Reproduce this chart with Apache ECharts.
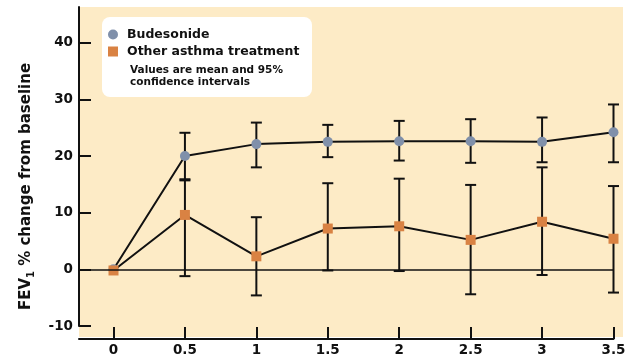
<!DOCTYPE html>
<html>
<head>
<meta charset="utf-8">
<script src="https://cdn.jsdelivr.net/npm/echarts@6/dist/echarts.min.js"></script>
<style>
  html, body { margin: 0; padding: 0; background: #ffffff; }
  #chart { width: 635px; height: 358px; }
</style>
</head>
<body>
<div id="chart"></div>
<script>
// Time points (x axis) and tick labels
const timePoints = [0, 0.5, 1, 1.5, 2, 2.5, 3, 3.5];
const xTicks = [0, 0.5, 1, 1.5, 2, 2.5, 3, 3.5];
const yTicks = [-10, 0, 10, 20, 30, 40];

// Budesonide: mean and 95% CI
const budesonideMean = [0, 20.0, 22.1, 22.5, 22.6, 22.6, 22.5, 24.2];
const budesonideLow  = [null, 15.7, 18.0, 19.8, 19.2, 18.8, 18.9, 18.9];
const budesonideHigh = [null, 24.1, 25.9, 25.5, 26.2, 26.5, 26.8, 29.1];

// Other asthma treatment: mean and 95% CI
const otherMean = [-0.2, 9.6, 2.3, 7.2, 7.6, 5.2, 8.4, 5.4];
const otherLow  = [null, -1.2, -4.6, -0.2, -0.3, -4.4, -1.0, -4.1];
const otherHigh = [null, 15.9, 9.2, 15.2, 16.0, 14.9, 18.0, 14.7];

const FONT = '"DejaVu Sans", sans-serif';
const BUD_COLOR = '#8090AA';
const OTH_COLOR = '#D98243';

function pairs(xs, ys) { return xs.map((x, i) => [x, ys[i]]); }
function bars(xs, lo, hi) {
  const out = [];
  xs.forEach((x, i) => { if (lo[i] != null) out.push([x, lo[i], hi[i]]); });
  return out;
}

// Vertical error bar with caps
function renderErrorBar(params, api) {
  const top = api.coord([api.value(0), api.value(2)]);
  const bot = api.coord([api.value(0), api.value(1)]);
  const cap = 5.5;
  const style = { stroke: '#111', lineWidth: 2 };
  return {
    type: 'group',
    children: [
      { type: 'line', shape: { x1: top[0], y1: top[1], x2: bot[0], y2: bot[1] }, style },
      { type: 'line', shape: { x1: top[0] - cap, y1: top[1], x2: top[0] + cap, y2: top[1] }, style },
      { type: 'line', shape: { x1: bot[0] - cap, y1: bot[1], x2: bot[0] + cap, y2: bot[1] }, style }
    ]
  };
}

const chart = echarts.init(document.getElementById('chart'));
chart.setOption({
  animation: false,
  textStyle: { fontFamily: FONT },
  grid: { left: 79, top: 7, right: 21.5, bottom: 32 },
  graphic: [
    { type: 'rect', z: -10, shape: { x: 79, y: 7, width: 544, height: 330 }, style: { fill: '#FDEBC6' }, silent: true },
    { type: 'rect', z: 3, shape: { x: 102, y: 17, width: 210, height: 80, r: 8 }, style: { fill: '#ffffff' }, silent: true },
    { type: 'text', z: 5, left: 130, top: 64, style: {
        text: 'Values are mean and 95%\nconfidence intervals',
        font: 'bold 10.5px ' + FONT, fill: '#111', lineHeight: 12.5 } }
  ],
  legend: {
    orient: 'vertical', left: 108, top: 27, padding: 0, z: 6,
    itemWidth: 10, itemHeight: 10, itemGap: 2,
    itemStyle: { borderWidth: 0 },
    textStyle: { fontFamily: FONT, fontWeight: 'bold', fontSize: 12.5, color: '#111', lineHeight: 15, padding: [0, 0, 0, 4] },
    data: [
      { name: 'Budesonide', icon: 'circle' },
      { name: 'Other asthma treatment', icon: 'rect' }
    ]
  },
  xAxis: {
    type: 'value', min: -0.2415, max: 3.5, offset: 13,
    splitLine: { show: false },
    axisLine: { onZero: false, lineStyle: { color: '#111', width: 2 } },
    axisTick: { inside: true, length: 12, lineStyle: { color: '#111', width: 2 }, customValues: xTicks },
    axisLabel: { customValues: xTicks, margin: 4, color: '#111', fontFamily: FONT, fontWeight: 'bold', fontSize: 13.5 }
  },
  yAxis: {
    type: 'value', min: -10, max: 46.3,
    name: '{a|FEV}{s|1}{a| % change from baseline}',
    nameLocation: 'middle', nameGap: 43, nameRotate: 90,
    nameTextStyle: {
      padding: [0, 40, 0, 0],
      rich: {
        a: { fontFamily: FONT, fontWeight: 'bold', fontSize: 15, color: '#111', lineHeight: 20 },
        s: { fontFamily: FONT, fontWeight: 'bold', fontSize: 10, color: '#111', lineHeight: 20, verticalAlign: 'bottom' }
      }
    },
    splitLine: { show: false },
    axisLine: { onZero: false, lineStyle: { color: '#111', width: 2 } },
    axisTick: { inside: true, length: 12, lineStyle: { color: '#111', width: 2 }, customValues: yTicks },
    axisLabel: { customValues: yTicks, margin: 6, color: '#111', fontFamily: FONT, fontWeight: 'bold', fontSize: 13.5 }
  },
  series: [
    {
      name: 'Budesonide CI', type: 'custom', z: 2, silent: true,
      renderItem: renderErrorBar, data: bars(timePoints, budesonideLow, budesonideHigh),
      encode: { x: 0, y: [1, 2] }
    },
    {
      name: 'Other CI', type: 'custom', z: 2, silent: true,
      renderItem: renderErrorBar, data: bars(timePoints, otherLow, otherHigh),
      encode: { x: 0, y: [1, 2] }
    },
    {
      name: 'Budesonide', type: 'line', z: 3,
      data: pairs(timePoints, budesonideMean),
      symbol: 'circle', symbolSize: 10,
      itemStyle: { color: BUD_COLOR, borderWidth: 0 },
      lineStyle: { color: '#111', width: 2 },
      markLine: {
        silent: true, symbol: 'none', label: { show: false },
        lineStyle: { color: '#111', width: 1.5, type: 'solid' },
        data: [{ yAxis: 0 }]
      }
    },
    {
      name: 'Other asthma treatment', type: 'line', z: 4,
      data: pairs(timePoints, otherMean),
      symbol: 'rect', symbolSize: 10,
      itemStyle: { color: OTH_COLOR, borderWidth: 0 },
      lineStyle: { color: '#111', width: 2 }
    }
  ]
});
</script>
</body>
</html>
